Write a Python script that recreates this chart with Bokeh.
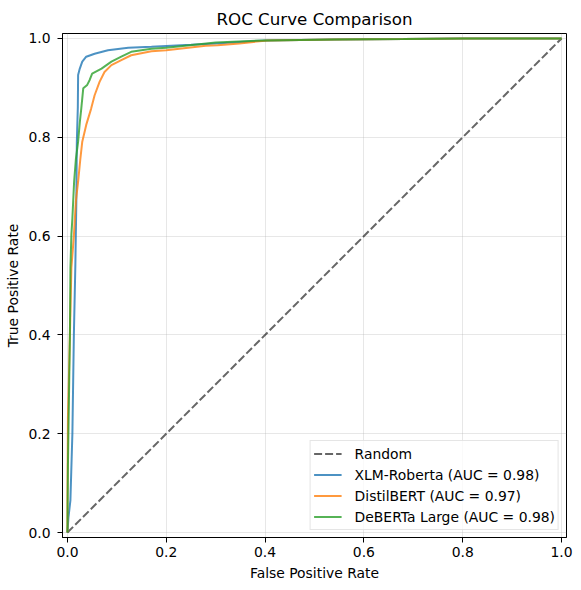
from bokeh.plotting import figure
from bokeh.models import FixedTicker, NumeralTickFormatter, Range1d
from bokeh.embed import file_html
from bokeh.resources import INLINE

# ---- data ----
random_fpr = [0.0, 1.0]
random_tpr = [0.0, 1.0]

xlm_fpr = [0.0, 0.002, 0.006, 0.010, 0.013, 0.016, 0.018, 0.019, 0.021, 0.0216, 0.025, 0.030,
           0.038, 0.055, 0.082, 0.123, 0.17, 0.25, 0.30, 0.40, 0.54, 0.68, 0.80, 1.0]
xlm_tpr = [0.0, 0.03, 0.065, 0.20, 0.40, 0.54, 0.67, 0.79, 0.86, 0.926, 0.939, 0.953,
           0.963, 0.969, 0.976, 0.981, 0.983, 0.987, 0.990, 0.996, 0.998, 0.999, 1.0, 1.0]

distil_fpr = [0.0, 0.0, 0.001, 0.005, 0.008, 0.013, 0.017, 0.0216, 0.026, 0.030, 0.038, 0.048,
              0.055, 0.065, 0.075, 0.089, 0.109, 0.129, 0.17, 0.20, 0.28, 0.304, 0.348, 0.405,
              0.54, 0.68, 0.80, 1.0]
distil_tpr = [0.0, 0.065, 0.233, 0.40, 0.536, 0.60, 0.67, 0.71, 0.755, 0.791, 0.825, 0.858,
              0.885, 0.912, 0.932, 0.946, 0.956, 0.966, 0.974, 0.976, 0.985, 0.986, 0.990, 0.996,
              0.998, 0.999, 1.0, 1.0]

deberta_fpr = [0.0, 0.001, 0.003, 0.005, 0.006, 0.008, 0.010, 0.0135, 0.017, 0.0216, 0.025, 0.028,
               0.032, 0.040, 0.045, 0.050, 0.069, 0.089, 0.109, 0.129, 0.17, 0.20, 0.30, 0.40,
               0.54, 0.68, 0.80, 1.0]
deberta_tpr = [0.0, 0.134, 0.267, 0.40, 0.536, 0.603, 0.636, 0.71, 0.755, 0.791, 0.83, 0.858,
               0.899, 0.906, 0.916, 0.929, 0.939, 0.953, 0.963, 0.973, 0.979, 0.981, 0.992, 0.996,
               0.998, 0.999, 1.0, 1.0]

tick_values = [0.0, 0.2, 0.4, 0.6, 0.8, 1.0]

FONT = "DejaVu Sans"

p = figure(frame_width=504, frame_height=504, output_backend="svg", toolbar_location=None,
           x_range=Range1d(-0.01, 1.01), y_range=Range1d(-0.01, 1.01),
           min_border_left=62, min_border_right=13, min_border_top=33, min_border_bottom=50,
           title="ROC Curve Comparison")

p.title.align = "center"
p.title.text_font = FONT
p.title.text_font_size = "16.7px"
p.title.text_font_style = "normal"
p.title.text_color = "black"

p.line(random_fpr, random_tpr, line_color="black", line_alpha=0.6, line_width=2,
       line_dash="8 3", legend_label="Random")
p.line(xlm_fpr, xlm_tpr, line_color="#1f77b4", line_alpha=0.8, line_width=2,
       legend_label="XLM-Roberta (AUC = 0.98)")
p.line(distil_fpr, distil_tpr, line_color="#ff7f0e", line_alpha=0.8, line_width=2,
       legend_label="DistilBERT (AUC = 0.97)")
p.line(deberta_fpr, deberta_tpr, line_color="#2ca02c", line_alpha=0.8, line_width=2,
       legend_label="DeBERTa Large (AUC = 0.98)")

for ax in (p.xaxis, p.yaxis):
    ax.ticker = FixedTicker(ticks=tick_values)
    ax.formatter = NumeralTickFormatter(format="0.0")
    ax.major_tick_out = 5
    ax.major_tick_in = 0
    ax.minor_tick_line_color = None
    ax.axis_line_color = "black"
    ax.major_tick_line_color = "black"
    ax.major_label_text_font = FONT
    ax.major_label_text_font_size = "13.9px"
    ax.major_label_text_color = "black"
    ax.axis_label_text_font = FONT
    ax.axis_label_text_font_size = "13.9px"
    ax.axis_label_text_font_style = "normal"
    ax.axis_label_text_color = "black"

p.xaxis.major_label_standoff = 4
p.xaxis.axis_label_standoff = 5
p.yaxis.major_label_standoff = 7
p.yaxis.axis_label_standoff = 4

p.xaxis.axis_label = "False Positive Rate"
p.yaxis.axis_label = "True Positive Rate"

p.grid.grid_line_color = "#b0b0b0"
p.grid.grid_line_alpha = 0.3
p.grid.grid_line_width = 1

p.outline_line_color = "black"
p.outline_line_alpha = 1
p.outline_line_width = 1

p.legend.location = "bottom_right"
p.legend.margin = 7
p.legend.padding = 3
p.legend.spacing = 2
p.legend.glyph_width = 28
p.legend.glyph_height = 19
p.legend.label_height = 19
p.legend.label_standoff = 13
p.legend.label_text_font = FONT
p.legend.label_text_font_size = "13.9px"
p.legend.label_text_color = "black"
p.legend.border_line_color = "#cccccc"
p.legend.background_fill_alpha = 0.8

open("out.html", "w").write(file_html(p, INLINE))
